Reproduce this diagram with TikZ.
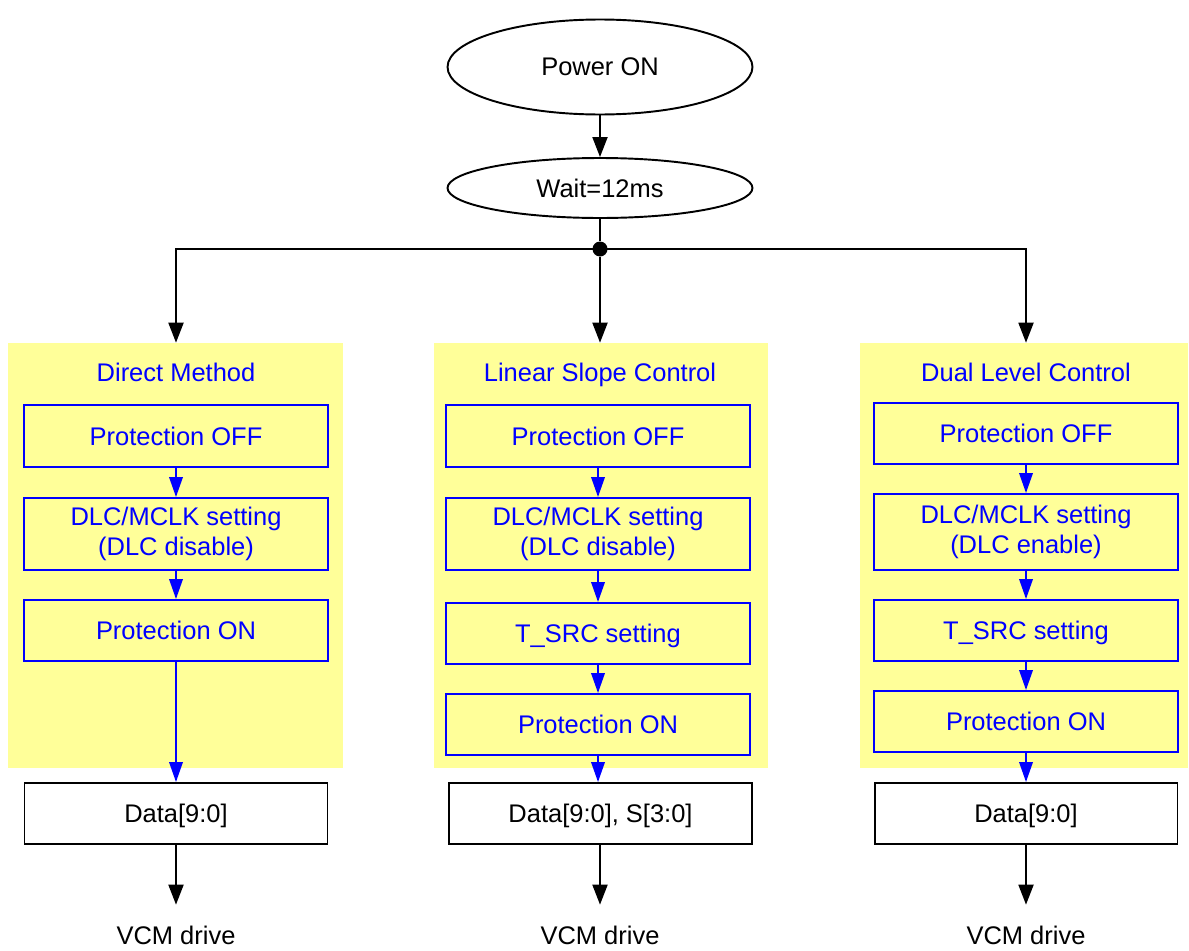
\documentclass[tikz,border=0pt]{standalone}
\usepackage{fontspec}
\setmainfont{Liberation Sans}
\usepackage{tikz}
\usetikzlibrary{shapes.geometric, arrows.meta}
\definecolor{panelyellow}{RGB}{255,255,153}
\tikzset{
  oneline/.style = {text height=10.6pt, text depth=0pt},
  startnode/.style = {ellipse, draw, line width=1.1pt, inner sep=0pt, minimum width=6.1cm},
  panel/.style = {rectangle, fill=panelyellow, inner sep=0pt, minimum height=8.5cm},
  ptitle/.style = {oneline, text=blue, inner sep=0pt},
  stepnode/.style = {rectangle, draw=blue, text=blue, line width=1.1pt, align=center, inner sep=0pt, minimum width=6.08cm, minimum height=1.22cm},
  datanode/.style = {oneline, rectangle, draw, line width=1.1pt, inner sep=0pt, minimum width=6.06cm, minimum height=1.22cm},
  outnode/.style = {oneline, inner sep=0pt, minimum height=1.2cm},
  flow/.style = {line width=1.1pt, -{Triangle[length=0.4cm, width=0.3cm]}},
  bflow/.style = {flow, blue, -{Triangle[length=0.4cm, width=0.27cm]}}
}

\begin{document}
\begin{tikzpicture}[x=0.02cm, y=-0.02cm, font=\fontsize{14.5}{17}\selectfont]
    \useasboundingbox (0,0) rectangle (1189,950);
    % start
    \node[startnode, minimum height=1.9cm] (pwr) at (600,67) {Power ON};
    \node[startnode, minimum height=1.2cm] (wait) at (600,188) {Wait=12ms};
    \node[circle, fill, inner sep=0pt, minimum size=0.3cm] (jn) at (600,249) {};

    % panels
    \node[panel, minimum width=6.7cm] (pnlA) at (175.5,555.5) {};
    \node[panel, minimum width=6.68cm] (pnlB) at (601,555.5) {};
    \node[panel, minimum width=6.56cm] (pnlC) at (1024,555.5) {};

    % direct method
    \node[ptitle] (ttlA) at (176,372) {Direct Method};
    \node[stepnode, oneline, minimum height=1.24cm] (offA) at (176,436) {Protection OFF};
    \node[stepnode, minimum height=1.44cm] (dlcA) at (176,534) {DLC/MCLK setting\\(DLC disable)};
    \node[stepnode, oneline] (onA) at (176,630.5) {Protection ON};
    \node[datanode] (datA) at (176,813.5) {Data[9:0]};
    \node[outnode] (vcmA) at (176,935) {VCM drive};

    % linear slope control
    \node[ptitle] (ttlB) at (600,372) {Linear Slope Control};
    \node[stepnode, oneline, minimum height=1.24cm] (offB) at (598,436) {Protection OFF};
    \node[stepnode, minimum height=1.44cm] (dlcB) at (598,534) {DLC/MCLK setting\\(DLC disable)};
    \node[stepnode, oneline] (srcB) at (598,633.5) {T\_SRC setting};
    \node[stepnode, oneline] (onB) at (598,724.5) {Protection ON};
    \node[datanode] (datB) at (600.5,813.5) {Data[9:0], S[3:0]};
    \node[outnode] (vcmB) at (600,935) {VCM drive};

    % dual level control
    \node[ptitle] (ttlC) at (1026,372) {Dual Level Control};
    \node[stepnode, oneline] (offC) at (1026,433.5) {Protection OFF};
    \node[stepnode, minimum height=1.52cm] (dlcC) at (1026,532) {DLC/MCLK setting\\(DLC enable)};
    \node[stepnode, oneline] (srcC) at (1026,630.5) {T\_SRC setting};
    \node[stepnode, oneline] (onC) at (1026,721.5) {Protection ON};
    \node[datanode] (datC) at (1026,813.5) {Data[9:0]};
    \node[outnode] (vcmC) at (1026,935) {VCM drive};

    % connectors
    \draw[flow] (pwr) -- (wait);
    \draw[line width=1.1pt] (wait) -- (jn);
    \draw[flow] (jn.center) -| (ttlA |- pnlA.north);
    \draw[flow] (jn) -- (jn |- pnlB.north);
    \draw[flow] (jn.center) -| (ttlC |- pnlC.north);

    \draw[bflow] (offA) -- (dlcA);
    \draw[bflow] (dlcA) -- (onA);
    \draw[bflow] (onA) -- (onA |- datA.north);
    \draw[bflow] (offB) -- (dlcB);
    \draw[bflow] (dlcB) -- (srcB);
    \draw[bflow] (srcB) -- (onB);
    \draw[bflow] (onB) -- (onB |- datB.north);
    \draw[bflow] (offC) -- (dlcC);
    \draw[bflow] (dlcC) -- (srcC);
    \draw[bflow] (srcC) -- (onC);
    \draw[bflow] (onC) -- (datC);

    \draw[flow] (datA) -- (vcmA);
    \draw[flow] (datB.south -| vcmB) -- (vcmB);
    \draw[flow] (datC) -- (vcmC);
\end{tikzpicture}
\end{document}
